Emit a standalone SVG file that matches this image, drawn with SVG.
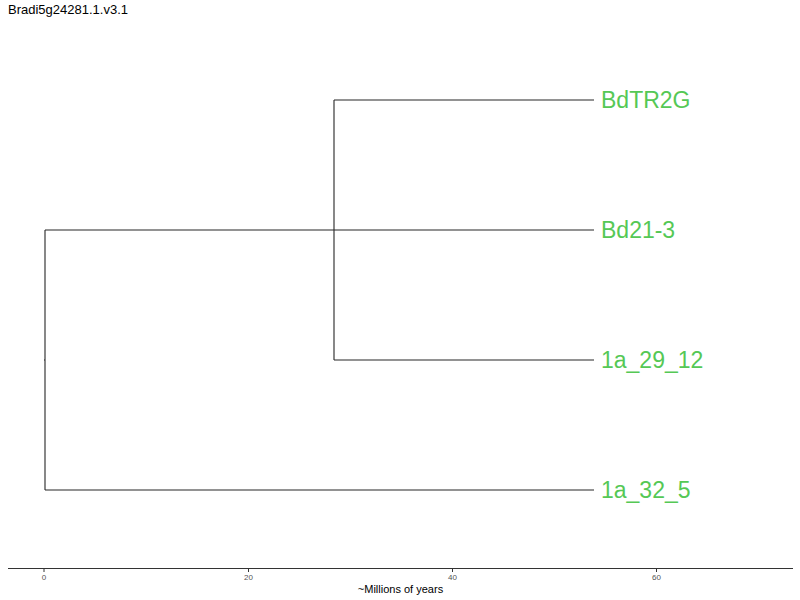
<svg xmlns="http://www.w3.org/2000/svg" width="800" height="600" viewBox="0 0 800 600">
<style>
.br{stroke:#000;stroke-width:1.1;fill:none;stroke-opacity:0.85}
.lbl{font-family:"Liberation Sans",Arial,sans-serif;font-size:23px;fill:#55c855}
.tk{font-family:"Liberation Sans",Arial,sans-serif;font-size:8px;fill:#555;text-anchor:middle}
.ax{stroke:#333;stroke-width:1.2}
</style>
<rect width="800" height="600" fill="#fff"/>
<text x="8" y="14" font-family="Liberation Sans, Arial, sans-serif" font-size="13" fill="#000">Bradi5g24281.1.v3.1</text>
<g id="connectors">
<path class="br" d="M45 230V490M44 360H45M45 230H594M45 490H594M334 100V360M334 100H594M334 360H594"/>
</g>
<g id="n1"><text class="lbl" x="601" y="108">BdTR2G</text></g>
<g id="n2"><text class="lbl" x="601" y="238">Bd21-3</text></g>
<g id="n3"><text class="lbl" x="601" y="368">1a_29_12</text></g>
<g id="n4"><text class="lbl" x="601" y="498">1a_32_5</text></g>
<g id="axis">
<line class="ax" x1="8" y1="568.5" x2="793" y2="568.5"/>
<path stroke="#333" stroke-width="1" d="M44 569V572M248.5 569V572M452.5 569V572M656.5 569V572"/>
<text class="tk" x="44" y="580">0</text>
<text class="tk" x="248.5" y="580">20</text>
<text class="tk" x="452.5" y="580">40</text>
<text class="tk" x="656.5" y="580">60</text>
<text x="400.5" y="593" font-family="Liberation Sans, Arial, sans-serif" font-size="11" fill="#000" text-anchor="middle">~Millions of years</text>
</g>
</svg>
